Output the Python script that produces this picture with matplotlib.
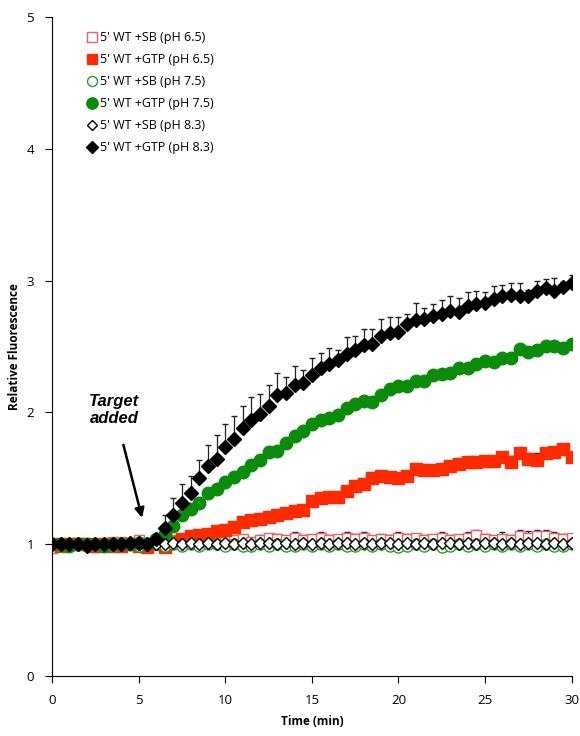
import numpy as np
import matplotlib
matplotlib.use('Agg')
from matplotlib import pyplot as plt

plt.rcParams['font.family'] = ['Open Sans', 'DejaVu Sans']

# time points (min), one reading every 30 s
t = np.arange(0, 30.01, 0.5)

# 5' WT +SB (pH 6.5)
sb65 = [0.97, 1.01, 1.00, 1.01, 1.00, 1.00, 1.01, 1.02, 1.02, 1.01, 1.03, 1.01,
        1.02, 1.01, 1.03, 1.02, 1.01, 1.04, 1.03, 1.02, 1.05, 1.03, 1.04, 1.02,
        1.03, 1.05, 1.04, 1.03, 1.05, 1.03, 1.04, 1.05, 1.03, 1.04, 1.05, 1.04,
        1.05, 1.03, 1.04, 1.03, 1.05, 1.04, 1.05, 1.03, 1.04, 1.05, 1.03, 1.04,
        1.05, 1.07, 1.04, 1.03, 1.04, 1.03, 1.06, 1.05, 1.06, 1.06, 1.05, 1.04, 1.05]
sb65_err = [0.02, 0.02, 0.01, 0.02, 0.02, 0.02, 0.02, 0.03, 0.02, 0.02, 0.03, 0.02,
            0.02, 0.03, 0.03, 0.02, 0.03, 0.03, 0.04, 0.03, 0.03, 0.04, 0.03, 0.03,
            0.04, 0.03, 0.04, 0.03, 0.04, 0.04, 0.03, 0.04, 0.04, 0.03, 0.04, 0.04,
            0.04, 0.03, 0.04, 0.04, 0.04, 0.04, 0.03, 0.04, 0.03, 0.04, 0.04, 0.03,
            0.04, 0.04, 0.04, 0.03, 0.05, 0.04, 0.05, 0.05, 0.05, 0.05, 0.04, 0.04, 0.03]

# 5' WT +GTP (pH 6.5)
gtp65 = [1.00, 0.99, 1.00, 1.00, 1.00, 0.99, 1.00, 0.99, 0.99, 1.00, 0.99, 0.98,
         1.00, 0.98, 1.02, 1.04, 1.06, 1.07, 1.08, 1.10, 1.11, 1.13, 1.17, 1.18,
         1.19, 1.21, 1.22, 1.24, 1.25, 1.26, 1.33, 1.35, 1.36, 1.36, 1.40, 1.44,
         1.46, 1.50, 1.52, 1.51, 1.50, 1.52, 1.57, 1.56, 1.56, 1.57, 1.59, 1.61,
         1.62, 1.62, 1.63, 1.63, 1.66, 1.62, 1.69, 1.65, 1.64, 1.69, 1.70, 1.72, 1.66]
gtp65_err = [0.01, 0.01, 0.01, 0.01, 0.01, 0.01, 0.01, 0.01, 0.01, 0.01, 0.01, 0.01,
             0.01, 0.01, 0.02, 0.02, 0.02, 0.02, 0.02, 0.02, 0.02, 0.03, 0.02, 0.03,
             0.02, 0.03, 0.03, 0.02, 0.03, 0.03, 0.02, 0.03, 0.03, 0.03, 0.03, 0.03,
             0.03, 0.02, 0.03, 0.03, 0.02, 0.03, 0.03, 0.02, 0.03, 0.03, 0.03, 0.03,
             0.03, 0.03, 0.03, 0.04, 0.03, 0.05, 0.03, 0.04, 0.05, 0.04, 0.03, 0.03, 0.02]

# 5' WT +SB (pH 7.5)
sb75 = [1.00, 0.99, 1.00, 1.00, 0.99, 1.00, 1.00, 0.99, 1.00, 1.00, 0.99, 1.00,
        1.00, 0.99, 1.00, 0.99, 1.00, 0.99, 1.00, 1.00, 0.99, 1.00, 0.99, 0.99,
        1.00, 0.99, 1.00, 0.99, 0.99, 1.00, 0.99, 1.00, 0.99, 1.00, 0.99, 0.99,
        1.00, 0.99, 1.00, 0.99, 0.98, 0.99, 1.00, 0.99, 1.00, 0.98, 0.99, 1.00,
        0.99, 1.00, 0.99, 1.00, 0.99, 1.00, 0.99, 1.00, 0.99, 1.00, 0.99, 0.99, 1.00]
sb75_err = [0.01] * 61

# 5' WT +GTP (pH 7.5)
gtp75 = [1.00, 1.00, 0.99, 1.00, 1.00, 1.00, 0.99, 1.00, 1.00, 1.00, 1.01, 1.00,
         1.04, 1.08, 1.14, 1.22, 1.27, 1.31, 1.39, 1.42, 1.47, 1.51, 1.55, 1.60,
         1.64, 1.70, 1.71, 1.77, 1.82, 1.86, 1.91, 1.94, 1.96, 1.98, 2.03, 2.06,
         2.09, 2.08, 2.13, 2.18, 2.20, 2.20, 2.24, 2.24, 2.28, 2.29, 2.30, 2.34,
         2.34, 2.37, 2.39, 2.38, 2.41, 2.41, 2.48, 2.46, 2.47, 2.50, 2.50, 2.49, 2.52]
gtp75_err = [0.01, 0.01, 0.01, 0.01, 0.01, 0.01, 0.01, 0.01, 0.01, 0.01, 0.01, 0.01,
             0.01, 0.02, 0.02, 0.02, 0.03, 0.03, 0.02, 0.03, 0.03, 0.03, 0.02, 0.03,
             0.03, 0.02, 0.03, 0.02, 0.02, 0.03, 0.02, 0.02, 0.02, 0.02, 0.02, 0.02,
             0.02, 0.02, 0.02, 0.02, 0.02, 0.03, 0.02, 0.02, 0.02, 0.02, 0.02, 0.02,
             0.02, 0.02, 0.02, 0.02, 0.02, 0.02, 0.02, 0.02, 0.03, 0.02, 0.03, 0.03, 0.02]

# 5' WT +SB (pH 8.3)
sb83 = [1.00, 1.00, 1.00, 1.00, 1.00, 1.00, 1.00, 1.00, 1.00, 1.00, 1.00, 1.00,
        1.00, 1.00, 1.01, 1.00, 1.01, 1.00, 1.01, 1.00, 1.01, 1.00, 1.01, 1.00,
        1.01, 1.01, 1.00, 1.01, 1.00, 1.01, 1.00, 1.01, 1.00, 1.01, 1.01, 1.00,
        1.01, 1.00, 1.01, 1.01, 1.00, 1.01, 1.00, 1.01, 1.00, 1.01, 1.01, 1.00,
        1.01, 1.00, 1.01, 1.01, 1.00, 1.01, 1.00, 1.01, 1.01, 1.00, 1.01, 1.00, 1.01]
sb83_err = [0.01] * 12 + [0.02, 0.03] * 24 + [0.02]

# 5' WT +GTP (pH 8.3)
gtp83 = [1.00, 1.00, 1.00, 1.00, 0.99, 1.00, 1.00, 1.00, 1.00, 1.01, 1.01, 1.00,
         1.04, 1.12, 1.22, 1.31, 1.39, 1.50, 1.59, 1.65, 1.74, 1.80, 1.88, 1.94,
         1.99, 2.05, 2.13, 2.15, 2.21, 2.22, 2.28, 2.34, 2.37, 2.40, 2.44, 2.47,
         2.51, 2.52, 2.58, 2.60, 2.61, 2.67, 2.70, 2.71, 2.73, 2.75, 2.77, 2.76,
         2.81, 2.82, 2.83, 2.86, 2.88, 2.89, 2.88, 2.88, 2.92, 2.94, 2.92, 2.95, 2.98]
gtp83_err = [0.01, 0.01, 0.01, 0.01, 0.01, 0.01, 0.01, 0.01, 0.01, 0.01, 0.01, 0.01,
             0.03, 0.10, 0.13, 0.15, 0.13, 0.14, 0.16, 0.18, 0.17, 0.17, 0.17, 0.18,
             0.15, 0.16, 0.17, 0.12, 0.14, 0.10, 0.13, 0.11, 0.12, 0.07, 0.13, 0.11,
             0.12, 0.11, 0.13, 0.12, 0.11, 0.08, 0.13, 0.08, 0.09, 0.10, 0.11, 0.11,
             0.10, 0.10, 0.08, 0.10, 0.09, 0.09, 0.10, 0.05, 0.08, 0.07, 0.10, 0.04, 0.06]

labels = ["5' WT +SB (pH 6.5)", "5' WT +GTP (pH 6.5)", "5' WT +SB (pH 7.5)",
          "5' WT +GTP (pH 7.5)", "5' WT +SB (pH 8.3)", "5' WT +GTP (pH 8.3)"]

series = [
    (sb65, sb65_err, dict(marker='s', mfc='white', mec='#f06060', ms=7.5, mew=1.0)),
    (gtp65, gtp65_err, dict(marker='s', mfc='#ff2a00', mec='#ff2a00', ms=8.5, mew=1.0)),
    (sb75, sb75_err, dict(marker='o', mfc='white', mec='#2a9a2a', ms=8, mew=1.0)),
    (gtp75, gtp75_err, dict(marker='o', mfc='#0a8c0a', mec='#0a8c0a', ms=9, mew=1.0)),
    (sb83, sb83_err, dict(marker='D', mfc='white', mec='black', ms=6, mew=1.0)),
    (gtp83, gtp83_err, dict(marker='D', mfc='black', mec='black', ms=7, mew=1.0)),
]

fig = plt.figure(figsize=(5.8, 7.36), dpi=100)
ax = fig.add_axes([0.0897, 0.0815, 0.896, 0.8955])

handles = []
for (y, err, style), lab in zip(series, labels):
    y = np.array(y)
    err = np.array(err)
    h = ax.errorbar(t, y, yerr=[np.zeros_like(err), err], ls='none',
                    ecolor='#222222', elinewidth=0.9, capsize=2.5, capthick=0.9,
                    label=lab, **style)
    handles.append(h[0])

ax.set_xlim(0, 30)
ax.set_ylim(0, 5)
ax.set_xticks([0, 5, 10, 15, 20, 25, 30])
ax.set_yticks([0, 1, 2, 3, 4, 5])
ax.spines['top'].set_visible(False)
ax.spines['right'].set_visible(False)
ax.tick_params(direction='out', length=5, labelsize=9.5, pad=8)
ax.set_xlabel('Time (min)', fontsize=8.5, fontweight='bold', labelpad=6)
ax.set_ylabel('Relative Fluorescence', fontsize=8.5, fontweight='bold', labelpad=4)

ax.legend(handles, labels, loc='upper left', bbox_to_anchor=(0.045, 0.995),
          frameon=False, fontsize=9, handlelength=0.8, handletextpad=0.3,
          labelspacing=0.72, markerscale=0.9)

ax.annotate('Target\nadded', xy=(5.2, 1.2), xytext=(3.6, 2.02),
            ha='center', va='center', fontsize=12, fontweight='bold',
            fontstyle='italic', family=['Liberation Sans', 'DejaVu Sans'],
            arrowprops=dict(arrowstyle='-|>', color='black', lw=1.8,
                            shrinkA=12, shrinkB=0, mutation_scale=14))

plt.savefig('out.png', dpi=100)
